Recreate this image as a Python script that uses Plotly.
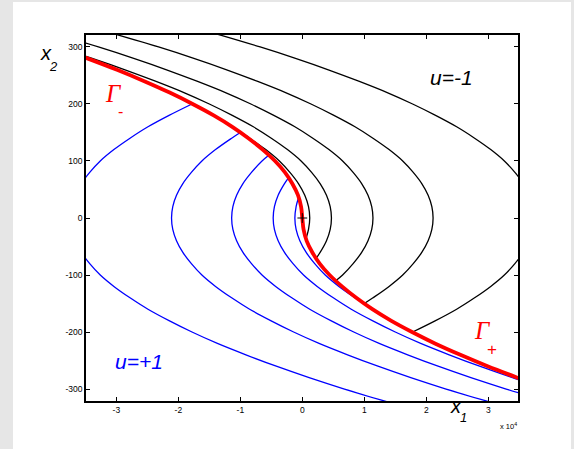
import plotly.graph_objects as go

# switching curve Gamma (x1 in units of 1e4)
red_x1 = [-3.59, -2.99, -2.55, -2.14, -1.77, -1.43, -1.13, -0.87, -0.64, -0.44, -0.28, -0.16, -0.07, -0.02, 0.0,
          0.02, 0.07, 0.16, 0.28, 0.44, 0.64, 0.87, 1.13, 1.43, 1.77, 2.14, 2.55, 2.99, 3.59]
red_x2 = [285, 260, 240, 220, 200, 180, 160, 140, 120, 100, 80, 60, 40, 20, 0,
          -20, -40, -60, -80, -100, -120, -140, -160, -180, -200, -220, -240, -260, -285]

# u=-1 trajectories (black)
b1_x1 = [-1.61, -0.68, -0.11, 0.42, 0.91, 1.37, 1.78, 2.15, 2.49, 2.78, 3.04, 3.26, 3.43, 3.57, 3.67, 3.73, 3.75,
         3.73, 3.67, 3.57, 3.43, 3.26, 3.04, 2.78, 2.49, 2.15, 1.78]
b1_x2 = [330, 300, 280, 260, 240, 220, 200, 180, 160, 140, 120, 100, 80, 60, 40, 20, 0,
         -20, -40, -60, -80, -100, -120, -140, -160, -180, -200]
b2_x1 = [-3.26, -2.32, -1.75, -1.22, -0.73, -0.27, 0.14, 0.51, 0.85, 1.14, 1.40, 1.62, 1.79, 1.93, 2.03, 2.09, 2.11,
         2.09, 2.03, 1.93, 1.79, 1.62, 1.40, 1.14, 1.00]
b2_x2 = [330, 300, 280, 260, 240, 220, 200, 180, 160, 140, 120, 100, 80, 60, 40, 20, 0,
         -20, -40, -60, -80, -100, -120, -140, -150]
b3_x1 = [-3.90, -3.29, -2.72, -2.19, -1.70, -1.24, -0.83, -0.46, -0.12, 0.17, 0.43, 0.65, 0.82, 0.96, 1.06, 1.12, 1.14,
         1.12, 1.06, 0.96, 0.82, 0.65, 0.54]
b3_x2 = [320, 300, 280, 260, 240, 220, 200, 180, 160, 140, 120, 100, 80, 60, 40, 20, 0,
         -20, -40, -60, -80, -100, -110]
b4_x1 = [-3.96, -3.39, -2.86, -2.37, -1.91, -1.50, -1.13, -0.79, -0.50, -0.24, -0.02, 0.15, 0.29, 0.39, 0.45, 0.47,
         0.45, 0.39, 0.29, 0.22]
b4_x2 = [300, 280, 260, 240, 220, 200, 180, 160, 140, 120, 100, 80, 60, 40, 20, 0,
         -20, -40, -60, -71]
b5_x1 = [-1.06, -0.85, -0.59, -0.37, -0.20, -0.06, 0.04, 0.10, 0.12, 0.10, 0.06]
b5_x2 = [155, 140, 120, 100, 80, 60, 40, 20, 0, -20, -36]

# u=+1 trajectories (blue)
u1_x1 = [1.61, 0.68, 0.11, -0.42, -0.91, -1.37, -1.78, -2.15, -2.49, -2.78, -3.04, -3.26, -3.43, -3.57, -3.67, -3.73,
         -3.75, -3.73, -3.67, -3.57, -3.43, -3.26, -3.04, -2.78, -2.49, -2.15, -1.78]
u1_x2 = [-330, -300, -280, -260, -240, -220, -200, -180, -160, -140, -120, -100, -80, -60, -40, -20,
         0, 20, 40, 60, 80, 100, 120, 140, 160, 180, 200]
u2_x1 = [3.26, 2.32, 1.75, 1.22, 0.73, 0.27, -0.14, -0.51, -0.85, -1.14, -1.40, -1.62, -1.79, -1.93, -2.03, -2.09,
         -2.11, -2.09, -2.03, -1.93, -1.79, -1.62, -1.40, -1.14, -1.00]
u2_x2 = [-330, -300, -280, -260, -240, -220, -200, -180, -160, -140, -120, -100, -80, -60, -40, -20,
         0, 20, 40, 60, 80, 100, 120, 140, 150]
u3_x1 = [3.90, 3.29, 2.72, 2.19, 1.70, 1.24, 0.83, 0.46, 0.12, -0.17, -0.43, -0.65, -0.82, -0.96, -1.06, -1.12,
         -1.14, -1.12, -1.06, -0.96, -0.82, -0.65, -0.54]
u3_x2 = [-320, -300, -280, -260, -240, -220, -200, -180, -160, -140, -120, -100, -80, -60, -40, -20,
         0, 20, 40, 60, 80, 100, 110]
u4_x1 = [3.96, 3.39, 2.86, 2.37, 1.91, 1.50, 1.13, 0.79, 0.50, 0.24, 0.02, -0.15, -0.29, -0.39, -0.45, -0.47,
         -0.45, -0.39, -0.29, -0.22]
u4_x2 = [-300, -280, -260, -240, -220, -200, -180, -160, -140, -120, -100, -80, -60, -40, -20, 0,
         20, 40, 60, 71]
u5_x1 = [1.06, 0.85, 0.59, 0.37, 0.20, 0.06, -0.04, -0.10, -0.12, -0.10, -0.06]
u5_x2 = [-155, -140, -120, -100, -80, -60, -40, -20, 0, 20, 36]

origin_x1 = [0]
origin_x2 = [0]

x_ticks = [-3, -2, -1, 0, 1, 2, 3]
y_ticks = [-300, -200, -100, 0, 100, 200, 300]

FONT = "Liberation Sans, Arial, Helvetica, sans-serif"
SERIF = "Liberation Serif, Times New Roman, serif"

fig = go.Figure()

for xs, ys in [(u1_x1, u1_x2), (u2_x1, u2_x2), (u3_x1, u3_x2), (u4_x1, u4_x2), (u5_x1, u5_x2)]:
    fig.add_trace(go.Scatter(x=xs, y=ys, mode="lines", line=dict(color="#0000ff", width=1.3, shape="spline"),
                             showlegend=False, hoverinfo="skip"))
for xs, ys in [(b1_x1, b1_x2), (b2_x1, b2_x2), (b3_x1, b3_x2), (b4_x1, b4_x2), (b5_x1, b5_x2)]:
    fig.add_trace(go.Scatter(x=xs, y=ys, mode="lines", line=dict(color="black", width=1.3, shape="spline"),
                             showlegend=False, hoverinfo="skip"))

fig.add_trace(go.Scatter(x=red_x1, y=red_x2, mode="lines", line=dict(color="#ff0000", width=3.8, shape="spline"),
                         showlegend=False, hoverinfo="skip"))
fig.add_trace(go.Scatter(x=origin_x1, y=origin_x2, mode="markers",
                         marker=dict(symbol="cross-thin", size=7, line=dict(color="black", width=1)),
                         showlegend=False, hoverinfo="skip"))

axis_common = dict(showline=True, linecolor="black", linewidth=1.5, mirror="ticks", ticks="inside",
                   ticklen=4, tickcolor="black", tickwidth=1, showgrid=False, zeroline=False,
                   tickfont=dict(family=FONT, size=8.5, color="black"))

fig.update_xaxes(range=[-3.49, 3.48], tickvals=x_ticks, ticktext=[str(v) for v in x_ticks], **axis_common)
fig.update_yaxes(range=[-321, 321], tickvals=y_ticks, ticktext=[str(v) for v in y_ticks], **axis_common)

def txt(x, y, s, size, color="black", ref="data", italic=True, family=FONT):
    fig.add_annotation(x=x, y=y, xref="paper" if ref == "paper" else "x", yref="paper" if ref == "paper" else "y",
                       text=f"<i>{s}</i>" if italic else s, showarrow=False,
                       font=dict(family=family, size=size, color=color), xanchor="center", yanchor="middle")

txt(2.41, 247, "u=-1", 21)
txt(-2.63, -251, "u=+1", 21, color="#0000ff")
txt(-3.04, 219, "Γ", 25, color="#ff0000", family=SERIF)
txt(-2.93, 186, "-", 16, color="#ff0000", italic=False)
txt(2.91, -198, "Γ", 25, color="#ff0000", family=SERIF)
txt(3.06, -231, "+", 17, color="#ff0000", italic=False)

txt(-0.0926, 0.952, "x", 20, ref="paper")
txt(-0.0752, 0.914, "2", 13, ref="paper")
txt(0.8576, -0.015, "x", 20, ref="paper")
txt(0.8727, -0.046, "1", 13, ref="paper")
txt(0.9769, -0.068, "x 10<sup>4</sup>", 7.5, ref="paper", italic=False)

fig.add_shape(type="rect", xref="paper", yref="paper", x0=-0.169, x1=1.1227, y0=-0.2, y1=1.0902,
              fillcolor="white", line=dict(width=0), layer="below")

fig.update_layout(width=574, height=449, margin=dict(l=86, r=56, t=35, b=48),
                  paper_bgcolor="#e6e6e6", plot_bgcolor="white", showlegend=False)

fig.write_html("out.html", config={"displayModeBar": False},
               post_script="document.body.style.margin='0';")
